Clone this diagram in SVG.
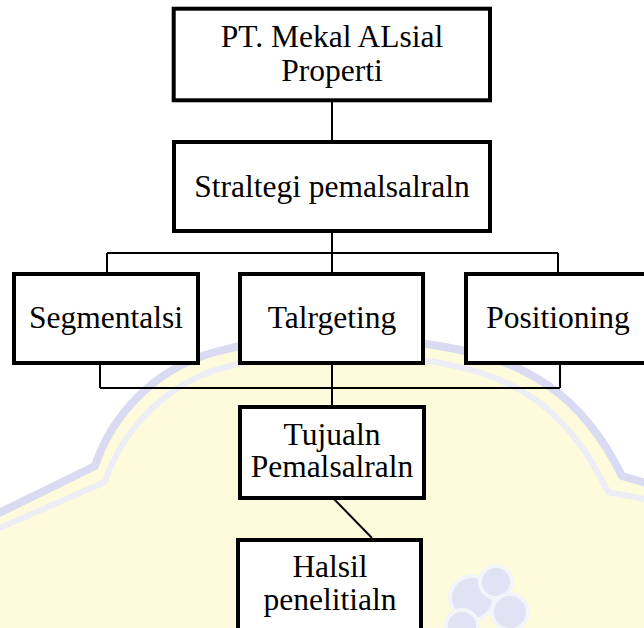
<svg xmlns="http://www.w3.org/2000/svg" width="644" height="628" viewBox="0 0 644 628">
  <style>
    .box { fill: #ffffff; stroke: #000000; stroke-width: 4; }
    .lbl { font-family: "Liberation Serif", "Times New Roman", serif; font-size: 31.5px; fill: #000000; text-anchor: middle; }
    .conn { stroke: #000000; stroke-width: 2; fill: none; }
  </style>
  <rect x="0" y="0" width="644" height="628" fill="#ffffff"/>
  <g id="watermark">
    <path d="M -5 515 L 95 466 C 110 420, 150 370, 215 352 C 260 340, 300 336, 332 336 C 370 336, 420 342, 450 348 C 520 360, 580 390, 622 476 L 650 484 L 650 640 L -5 640 Z" fill="#fdfbdc"/>
    <path d="M -5 515 L 95 466 C 110 420, 150 370, 215 352 C 260 340, 300 336, 332 336 C 370 336, 420 342, 450 348 C 520 360, 580 390, 622 476 L 650 484" fill="none" stroke="#dadaf3" stroke-width="8"/>
    <path d="M -5 530 L 105 482 C 120 436, 160 386, 222 368 C 265 356, 302 352, 332 352 C 368 352, 416 358, 445 364 C 510 376, 566 404, 608 492 L 650 500" fill="none" stroke="#ededf6" stroke-width="6"/>
    <g fill="#e2e2f5" stroke="#f4f4fb" stroke-width="4">
      <circle cx="472" cy="598" r="22"/>
      <circle cx="496" cy="582" r="16"/>
      <circle cx="510" cy="612" r="18"/>
      <circle cx="462" cy="626" r="16"/>
    </g>
  </g>
  <g id="connectors">
    <line class="conn" x1="332" y1="101" x2="332" y2="140"/>
    <line class="conn" x1="332" y1="233" x2="332" y2="253"/>
    <line class="conn" x1="107" y1="253" x2="558" y2="253"/>
    <line class="conn" x1="107" y1="253" x2="107" y2="272"/>
    <line class="conn" x1="332" y1="253" x2="332" y2="272"/>
    <line class="conn" x1="558" y1="253" x2="558" y2="272"/>
    <line class="conn" x1="100" y1="365" x2="100" y2="388"/>
    <line class="conn" x1="560" y1="365" x2="560" y2="388"/>
    <line class="conn" x1="100" y1="388" x2="560" y2="388"/>
    <line class="conn" x1="332" y1="365" x2="332" y2="406"/>
    <line class="conn" x1="334" y1="499" x2="372" y2="538"/>
  </g>
  <g id="node-pt">
    <rect class="box" x="173.7" y="8.7" width="316.3" height="91.6"/>
    <text class="lbl" x="332" y="47">PT. Mekal ALsial</text>
    <text class="lbl" x="332" y="81">Properti</text>
  </g>
  <g id="node-strategi">
    <rect class="box" x="174" y="142" width="316" height="89"/>
    <text class="lbl" x="332" y="197">Straltegi pemalsalraln</text>
  </g>
  <g id="node-segmentasi">
    <rect class="box" x="14" y="274" width="184" height="89"/>
    <text class="lbl" x="106" y="328">Segmentalsi</text>
  </g>
  <g id="node-targeting">
    <rect class="box" x="240" y="274" width="183" height="89"/>
    <text class="lbl" x="332" y="328">Talrgeting</text>
  </g>
  <g id="node-positioning">
    <rect class="box" x="466" y="274" width="184" height="89"/>
    <text class="lbl" x="558" y="328">Positioning</text>
  </g>
  <g id="node-tujuan">
    <rect class="box" x="240" y="407" width="184" height="91"/>
    <text class="lbl" x="332" y="445">Tujualn</text>
    <text class="lbl" x="332" y="477">Pemalsalraln</text>
  </g>
  <g id="node-hasil">
    <rect class="box" x="238" y="540" width="183" height="100"/>
    <text class="lbl" x="330" y="577">Halsil</text>
    <text class="lbl" x="330" y="610">penelitialn</text>
  </g>
</svg>
